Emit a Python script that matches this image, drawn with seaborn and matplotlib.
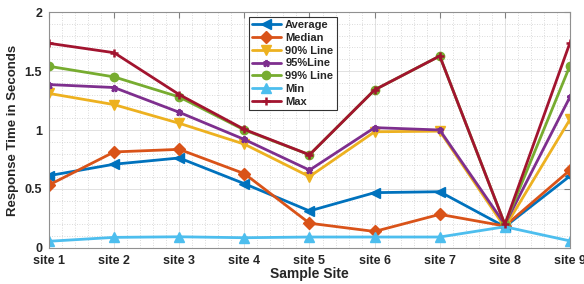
import numpy as np
import pandas as pd
import matplotlib
matplotlib.use("Agg")
import matplotlib.pyplot as plt
import seaborn as sns
from matplotlib.ticker import MultipleLocator

sites = ["site 1", "site 2", "site 3", "site 4", "site 5", "site 6", "site 7", "site 8", "site 9"]
average = [0.613, 0.71, 0.763, 0.545, 0.314, 0.469, 0.477, 0.18, 0.61]
median = [0.534, 0.814, 0.836, 0.63, 0.21, 0.14, 0.285, 0.186, 0.66]
line90 = [1.31, 1.215, 1.057, 0.88, 0.605, 0.985, 0.99, 0.175, 1.09]
line95 = [1.385, 1.36, 1.15, 0.92, 0.66, 1.02, 1.0, 0.2, 1.28]
line99 = [1.54, 1.45, 1.28, 1.0, 0.79, 1.34, 1.627, 0.2, 1.545]
minv = [0.057, 0.09, 0.095, 0.087, 0.093, 0.093, 0.093, 0.18, 0.06]
maxv = [1.735, 1.655, 1.30, 1.005, 0.79, 1.34, 1.627, 0.2, 1.74]

names = ["Average", "Median", "90% Line", "95%Line", "99% Line", "Min", "Max"]
series = [average, median, line90, line95, line99, minv, maxv]
colors = ["#0072BD", "#D95319", "#EDB120", "#7E2F8E", "#77AC30", "#4DBEEE", "#A2142F"]
marks = ["<", "D", "v", "*", "o", "^", "P"]
msizes = [7, 6, 7, 5, 6, 7, 6]

rows = []
for n, s in zip(names, series):
    for i, v in enumerate(s):
        rows.append({"pos": i + 1, "value": v, "series": n})
df = pd.DataFrame(rows)

sns.set_style("white")
plt.rcParams["font.family"] = ["Liberation Sans", "DejaVu Sans"]
plt.rcParams["font.weight"] = "bold"

fig = plt.figure(figsize=(5.84, 2.84), dpi=100)
ax = fig.add_axes([0.0839, 0.1268, 0.8921, 0.8309])

sns.lineplot(data=df, x="pos", y="value", hue="series", style="series",
             hue_order=names, style_order=names,
             palette=dict(zip(names, colors)), markers=dict(zip(names, marks)),
             dashes=False, linewidth=2.0, legend=False, ax=ax)

for line, ms, m in zip(ax.lines, msizes, marks):
    c = line.get_color()
    if m == "P":
        line.set_marker("+")
    line.set_markersize(ms)
    line.set_markeredgecolor(c)
    line.set_markerfacecolor(c)
    line.set_markeredgewidth(1.8 if m in ("P", "*") else 1.0)

ax.set_xlim(1, 9)
ax.set_ylim(0, 2)
ax.set_xticks(range(1, 10))
ax.set_xticklabels(sites)
ax.set_yticks([0, 0.5, 1, 1.5, 2])
ax.set_yticklabels(["0", "0.5", "1", "1.5", "2"])
ax.xaxis.set_minor_locator(MultipleLocator(0.2))
ax.yaxis.set_minor_locator(MultipleLocator(0.1))
ax.grid(which="major", color="#dcdcdc", linewidth=0.6, linestyle="-")
ax.grid(which="minor", color="#cfcfcf", linewidth=0.6, linestyle=(0, (1, 2)))
ax.set_axisbelow(True)
ax.tick_params(which="major", direction="in", length=4, top=True, right=True,
               color="#808080", labelsize=9, pad=5, labelcolor="#262626")
ax.tick_params(which="minor", length=0)
for t in ax.get_xticklabels() + ax.get_yticklabels():
    t.set_fontweight("bold")
for sp in ax.spines.values():
    sp.set_color("#909090")
    sp.set_linewidth(0.8)

ax.set_xlabel("Sample Site", fontsize=10, fontweight="bold", labelpad=0, color="#262626")
ax.set_ylabel("Response Time in Seconds", fontsize=9.5, fontweight="bold", labelpad=4,
              color="#262626")

leg = ax.legend(ax.lines, names, loc="upper left", bbox_to_anchor=(0.383, 0.98),
                fontsize=8, frameon=True, fancybox=False, handlelength=2.6,
                borderpad=0.3, labelspacing=0.25, handletextpad=0.4,
                borderaxespad=0)
leg.get_frame().set_edgecolor("black")
leg.get_frame().set_linewidth(0.8)
for t in leg.get_texts():
    t.set_fontweight("bold")

fig.savefig("out.png", dpi=100)
